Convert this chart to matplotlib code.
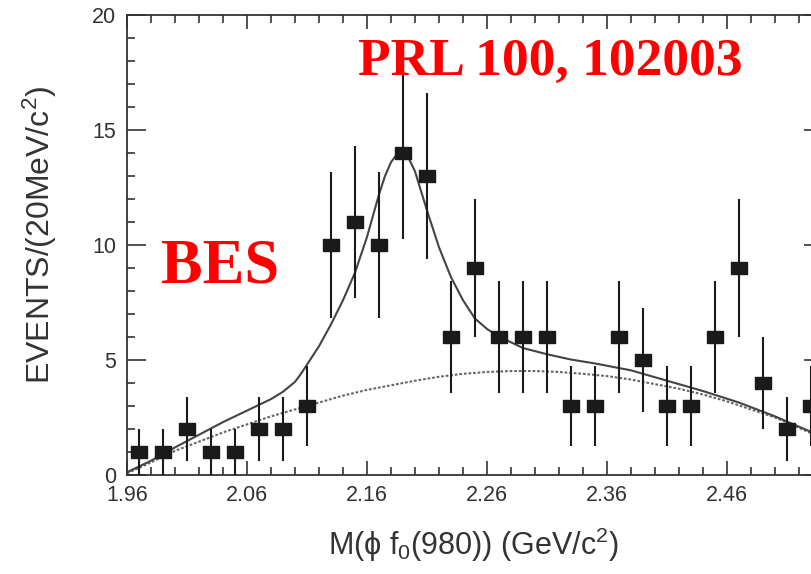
import numpy as np
import matplotlib
matplotlib.use("Agg")
import matplotlib.pyplot as plt

# measured spectrum, 20 MeV bins
mass = [1.97, 1.99, 2.01, 2.03, 2.05, 2.07, 2.09, 2.11, 2.13, 2.15,
        2.17, 2.19, 2.21, 2.23, 2.25, 2.27, 2.29, 2.31, 2.33, 2.35,
        2.37, 2.39, 2.41, 2.43, 2.45, 2.47, 2.49, 2.51, 2.53]
events = [1, 1, 2, 1, 1, 2, 2, 3, 10, 11,
          10, 14, 13, 6, 9, 6, 6, 6, 3, 3,
          6, 5, 3, 3, 6, 9, 4, 2, 3]
errors = [1.0, 1.0, 1.41, 1.0, 1.0, 1.41, 1.41, 1.73, 3.16, 3.32,
          3.16, 3.74, 3.61, 2.45, 3.0, 2.45, 2.45, 2.45, 1.73, 1.73,
          2.45, 2.24, 1.73, 1.73, 2.45, 3.0, 2.0, 1.41, 1.73]

# total fit curve
fit_x = [1.96, 1.98, 2.00, 2.02, 2.04, 2.06, 2.08, 2.09, 2.10, 2.105,
         2.11, 2.12, 2.13, 2.14, 2.15, 2.16, 2.17, 2.175, 2.18, 2.185,
         2.19, 2.195, 2.20, 2.21, 2.22, 2.23, 2.24, 2.25, 2.26, 2.27,
         2.29, 2.31, 2.33, 2.35, 2.38, 2.41, 2.44, 2.47, 2.50, 2.54]
fit_y = [0.12, 0.62, 1.2, 1.75, 2.3, 2.8, 3.3, 3.62, 4.05, 4.4,
         4.8, 5.6, 6.55, 7.6, 8.8, 10.35, 12.2, 13.0, 13.6, 13.95,
         14.0, 13.75, 13.2, 11.5, 9.9, 8.6, 7.6, 6.8, 6.35, 6.02,
         5.52, 5.25, 5.02, 4.85, 4.55, 4.1, 3.65, 3.15, 2.55, 1.65]

# background curve
bkg_x = [1.96, 1.98, 2.00, 2.02, 2.04, 2.06, 2.08, 2.10, 2.12, 2.14,
         2.16, 2.18, 2.20, 2.22, 2.24, 2.26, 2.28, 2.30, 2.32, 2.34,
         2.36, 2.38, 2.40, 2.42, 2.44, 2.46, 2.48, 2.50, 2.52, 2.54]
bkg_y = [0.07, 0.55, 1.05, 1.45, 1.85, 2.2, 2.55, 2.85, 3.15, 3.45,
         3.7, 3.9, 4.1, 4.27, 4.4, 4.48, 4.52, 4.52, 4.48, 4.4,
         4.3, 4.15, 3.95, 3.75, 3.5, 3.2, 2.85, 2.5, 2.05, 1.6]

x_major = [1.96, 2.06, 2.16, 2.26, 2.36, 2.46]
x_major_labels = ["1.96", "2.06", "2.16", "2.26", "2.36", "2.46"]

plt.rcParams['font.family'] = ['Liberation Sans', 'DejaVu Sans']
plt.rcParams['mathtext.fontset'] = 'custom'
plt.rcParams['mathtext.rm'] = 'Liberation Sans'
plt.rcParams['mathtext.it'] = 'Liberation Sans:italic'

W, H = 812, 574
fig = plt.figure(figsize=(W / 100, H / 100), dpi=100)
# axes runs a little past the right edge, like the cropped original
ax = fig.add_axes([127 / W, 99 / H, (823 - 127) / W, (475 - 15) / H])

grey = '#333333'

ax.plot(bkg_x, bkg_y, color='#666666', lw=1.5, ls=(0, (1.3, 0.9)), zorder=2)
ax.plot(fit_x, fit_y, color='#444444', lw=1.5, zorder=2)

rect = [(-1, -0.8), (1, -0.8), (1, 0.8), (-1, 0.8), (-1, -0.8)]
ax.errorbar(mass, events, yerr=errors, fmt='none', ecolor='#1a1a1a',
            elinewidth=1.5, capsize=0, zorder=3)
ax.plot(mass, events, ls='none', marker=rect, ms=11, color='#1a1a1a',
        mec='#1a1a1a', zorder=4)

ax.set_xticks(x_major)
ax.set_xticklabels(x_major_labels)
ax.set_xticks(np.arange(1.96, 2.545, 0.02), minor=True)
ax.set_yticks([0, 5, 10, 15, 20])
ax.set_yticks(range(0, 21), minor=True)
ax.set_xlim(1.96, 2.54)
ax.set_ylim(0, 20)

for s in ax.spines.values():
    s.set_linewidth(1.3)
    s.set_color(grey)

ax.tick_params(which='both', direction='in', top=True, right=True,
               color=grey, width=1.2)
ax.tick_params(axis='x', which='major', length=10, pad=7,
               labelsize=15.5, labelcolor=grey)
ax.tick_params(axis='y', which='major', length=13.5, pad=8,
               labelsize=15.5, labelcolor=grey)
ax.tick_params(which='minor', length=5.5)

fig.text(40 / W, 1 - 235 / H, r"EVENTS/(20MeV/c$^{2}$)", rotation=90,
         ha='center', va='center', fontsize=23, color=grey)
fig.text(473 / W, 1 - 545 / H, r"M(ϕ f$_{0}$(980)) (GeV/c$^{2}$)",
         ha='center', va='center', fontsize=22, color=grey)

fig.text(550 / W, 1 - 62 / H, "PRL 100, 102003", ha='center', va='center',
         family='Liberation Serif', fontweight='bold', fontsize=38.5,
         color='#ff0000')
fig.text(220 / W, 1 - 268 / H, "BES", ha='center', va='center',
         family='Liberation Serif', fontweight='bold', fontsize=45,
         color='#ff0000')

fig.savefig("out.png", dpi=100)
